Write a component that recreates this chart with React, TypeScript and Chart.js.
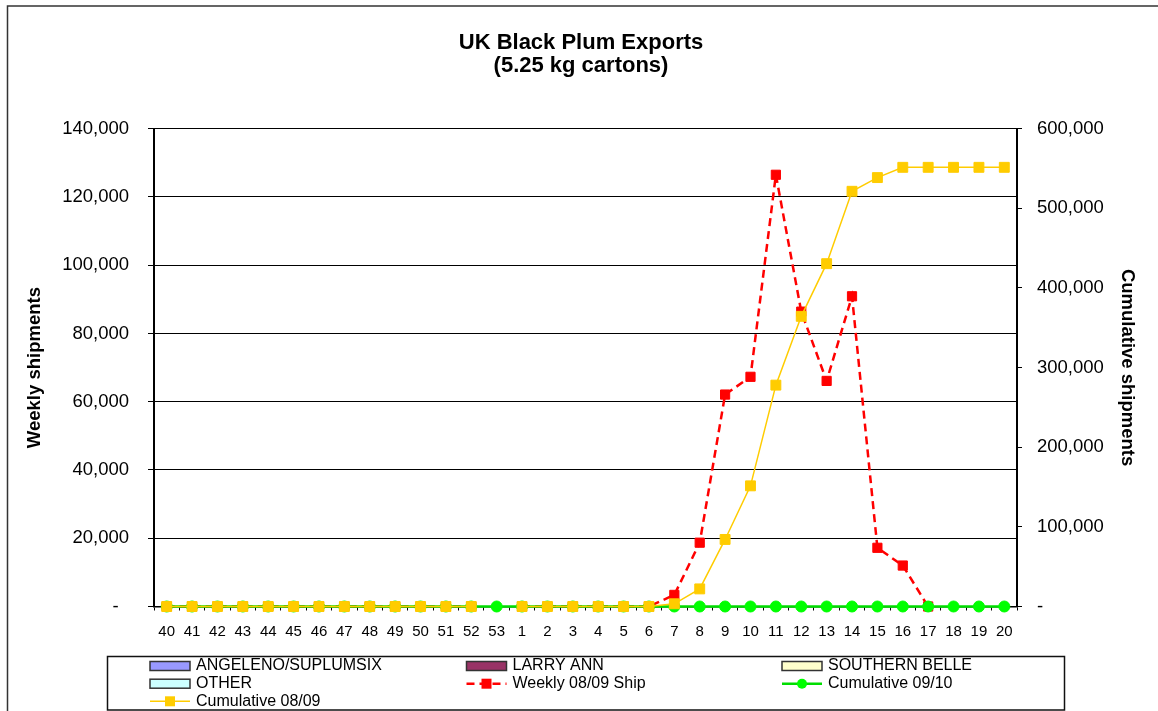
import React, { useEffect, useRef } from 'react';
import { Chart, registerables } from 'chart.js';

Chart.register(...registerables);

const FONT = '"Liberation Sans", Arial, Helvetica, sans-serif';

const TITLE_LINES = ['UK Black Plum Exports', '(5.25 kg cartons)'];

const weeks = [
  '40', '41', '42', '43', '44', '45', '46', '47', '48', '49', '50', '51', '52', '53',
  '1', '2', '3', '4', '5', '6', '7', '8', '9', '10', '11', '12', '13', '14', '15', '16', '17', '18', '19', '20',
];

const angelenoSuplumsix: (number | null)[] = weeks.map(() => null);
const larryAnn: (number | null)[] = weeks.map(() => null);
const southernBelle: (number | null)[] = weeks.map(() => null);
const other: (number | null)[] = weeks.map(() => null);

const weekly0809: (number | null)[] = [
  0, 0, 0, 0, 0, 0, 0, 0, 0, 0, 0, 0, 0, null,
  0, 0, 0, 0, 0, 0, 3400, 18700, 62100, 67300, 126500, 86400, 66100, 90900, 17200, 12000, 0, null, null, null,
];

const cumulative0910: (number | null)[] = [
  0, 0, 0, 0, 0, 0, 0, 0, 0, 0, 0, 0, 0, 0,
  0, 0, 0, 0, 0, 0, 0, 0, 0, 0, 0, 0, 0, 0, 0, 0, 0, 0, 0, 0,
];

const cumulative0809: (number | null)[] = [
  0, 0, 0, 0, 0, 0, 0, 0, 0, 0, 0, 0, 0, null,
  0, 0, 0, 0, 0, 0, 3400, 22100, 84200, 151500, 278000, 364400, 430500, 521400, 538600, 551500, 551500, 551500, 551500, 551500,
];

const LEFT_MAX = 140000;
const LEFT_STEP = 20000;
const RIGHT_MAX = 600000;
const RIGHT_STEP = 100000;

const LEGEND_COLS = [150, 466.5, 782];
const LEGEND_ROWS = [666, 683.7, 701.3];

const fmt = (v: number) => Number(v).toLocaleString('en-US');

const decorPlugin = {
  id: 'decor',
  beforeDraw(chart: any) {
    const ctx = chart.ctx;
    ctx.save();
    ctx.fillStyle = '#fff';
    ctx.fillRect(0, 0, chart.width, chart.height);
    ctx.restore();
  },
  afterDraw(chart: any) {
    const ctx = chart.ctx as CanvasRenderingContext2D;
    ctx.save();
    // outer border
    ctx.strokeStyle = '#333';
    ctx.lineWidth = 1.5;
    ctx.strokeRect(7.5, 6, 1180, 740);
    // title
    ctx.fillStyle = '#000';
    ctx.font = `bold 22px ${FONT}`;
    ctx.textAlign = 'center';
    ctx.textBaseline = 'alphabetic';
    ctx.fillText(TITLE_LINES[0], 581, 48.5);
    ctx.fillText(TITLE_LINES[1], 581, 71.5);
    // legend box
    ctx.strokeStyle = '#111';
    ctx.lineWidth = 1.5;
    ctx.strokeRect(107.5, 656.5, 957, 53.5);
    ctx.font = `16px ${FONT}`;
    ctx.textAlign = 'left';
    ctx.textBaseline = 'middle';
    chart.data.datasets.forEach((ds: any, i: number) => {
      const x = LEGEND_COLS[i % 3];
      const y = LEGEND_ROWS[Math.floor(i / 3)];
      if ((ds.type || 'bar') === 'bar') {
        ctx.fillStyle = ds.backgroundColor;
        ctx.fillRect(x, y - 4.5, 40, 9);
        ctx.strokeStyle = '#333';
        ctx.lineWidth = 1.5;
        ctx.setLineDash([]);
        ctx.strokeRect(x, y - 4.5, 40, 9);
      } else {
        ctx.strokeStyle = ds.borderColor;
        ctx.lineWidth = ds.borderWidth;
        ctx.setLineDash(ds.borderDash || []);
        ctx.beginPath();
        ctx.moveTo(x, y);
        ctx.lineTo(x + 40, y);
        ctx.stroke();
        ctx.setLineDash([]);
        ctx.fillStyle = ds.pointBackgroundColor;
        if (ds.pointStyle === 'rect') {
          ctx.fillRect(x + 15, y - 5, 10, 10);
        } else {
          ctx.beginPath();
          ctx.arc(x + 20, y, 5, 0, Math.PI * 2);
          ctx.fill();
        }
      }
      ctx.fillStyle = '#000';
      ctx.fillText(ds.label, x + 46, y);
    });
    ctx.restore();
  },
};

export default function App() {
  const canvasRef = useRef<HTMLCanvasElement | null>(null);

  useEffect(() => {
    if (!canvasRef.current) return;
    const chart = new Chart(canvasRef.current, {
      type: 'bar',
      data: {
        labels: weeks,
        datasets: [
          { type: 'bar', label: 'ANGELENO/SUPLUMSIX', data: angelenoSuplumsix, backgroundColor: '#9999FF', borderColor: '#333', borderWidth: 1, yAxisID: 'y', order: 10, stack: 's' },
          { type: 'bar', label: 'LARRY ANN', data: larryAnn, backgroundColor: '#993366', borderColor: '#333', borderWidth: 1, yAxisID: 'y', order: 10, stack: 's' },
          { type: 'bar', label: 'SOUTHERN BELLE', data: southernBelle, backgroundColor: '#FFFFCC', borderColor: '#333', borderWidth: 1, yAxisID: 'y', order: 10, stack: 's' },
          { type: 'bar', label: 'OTHER', data: other, backgroundColor: '#CCFFFF', borderColor: '#333', borderWidth: 1, yAxisID: 'y', order: 10, stack: 's' },
          {
            type: 'line', label: 'Weekly 08/09 Ship', data: weekly0809, yAxisID: 'y', order: 3,
            borderColor: '#FF0000', borderWidth: 2.5, borderDash: [8, 5], pointStyle: 'rect', pointRadius: 6.5,
            pointBackgroundColor: '#FF0000', pointBorderColor: '#FF0000', pointBorderWidth: 1, tension: 0, spanGaps: false, clip: false,
          },
          {
            type: 'line', label: 'Cumulative 09/10', data: cumulative0910, yAxisID: 'y2', order: 2,
            borderColor: '#00DD00', borderWidth: 2.5, pointStyle: 'circle', pointRadius: 5.5,
            pointBackgroundColor: '#00FF00', pointBorderColor: '#00FF00', pointBorderWidth: 1, tension: 0, clip: false,
          },
          {
            type: 'line', label: 'Cumulative 08/09', data: cumulative0809, yAxisID: 'y2', order: 1,
            borderColor: '#FFCC00', borderWidth: 1.5, pointStyle: 'rect', pointRadius: 7,
            pointBackgroundColor: '#FFCC00', pointBorderColor: '#FFCC00', pointBorderWidth: 1, tension: 0, spanGaps: false, clip: false,
          },
        ] as any,
      },
      options: {
        responsive: false,
        animation: false,
        devicePixelRatio: 1,
        layout: { padding: { top: 128.7, left: 0, right: 0, bottom: 0 } },
        plugins: {
          legend: { display: false },
          title: { display: false },
          tooltip: { enabled: false },
        },
        scales: {
          x: {
            type: 'category',
            offset: true,
            stacked: true,
            ticks: { font: { family: FONT, size: 15 }, color: '#000', padding: 12, maxRotation: 0, autoSkip: false },
            grid: { offset: true, drawOnChartArea: false, color: '#000', tickLength: 4, lineWidth: 1 },
            border: { color: '#000', width: 1.5 },
            afterFit: (s: any) => { s.height = 104.5; },
          },
          y: {
            position: 'left',
            stacked: true,
            min: 0,
            max: LEFT_MAX,
            ticks: {
              stepSize: LEFT_STEP,
              font: { family: FONT, size: 18.5 },
              color: '#000',
              padding: 19,
              callback: (v: any) => (Number(v) === 0 ? '-  ' : fmt(v)),
            },
            grid: { color: '#000', lineWidth: 1, tickLength: 6 },
            border: { color: '#000', width: 2 },
            title: {
              display: true,
              text: 'Weekly shipments',
              color: '#000',
              font: { family: FONT, size: 18.5, weight: 'bold' },
              padding: { top: 24, bottom: 0 },
            },
            afterFit: (s: any) => { s.width = 154; },
          },
          y2: {
            position: 'right',
            min: 0,
            max: RIGHT_MAX,
            ticks: {
              stepSize: RIGHT_STEP,
              font: { family: FONT, size: 18.5 },
              color: '#000',
              padding: 15,
              callback: (v: any) => (Number(v) === 0 ? '-' : fmt(v)),
            },
            grid: { drawOnChartArea: false, color: '#000', lineWidth: 1, tickLength: 5 },
            border: { color: '#000', width: 2 },
            title: {
              display: true,
              text: 'Cumulative shipments',
              color: '#000',
              font: { family: FONT, size: 18.5, weight: 'bold' },
              padding: { top: 19.5, bottom: 0 },
            },
            afterFit: (s: any) => { s.width = 141; },
          },
        },
      } as any,
      plugins: [decorPlugin],
    });
    return () => chart.destroy();
  }, []);

  return (
    <div style={{ position: 'fixed', left: 0, top: 0, width: 1158, height: 711, overflow: 'hidden', background: '#fff' }}>
      <canvas ref={canvasRef} width={1158} height={711} style={{ display: 'block' }} />
    </div>
  );
}
